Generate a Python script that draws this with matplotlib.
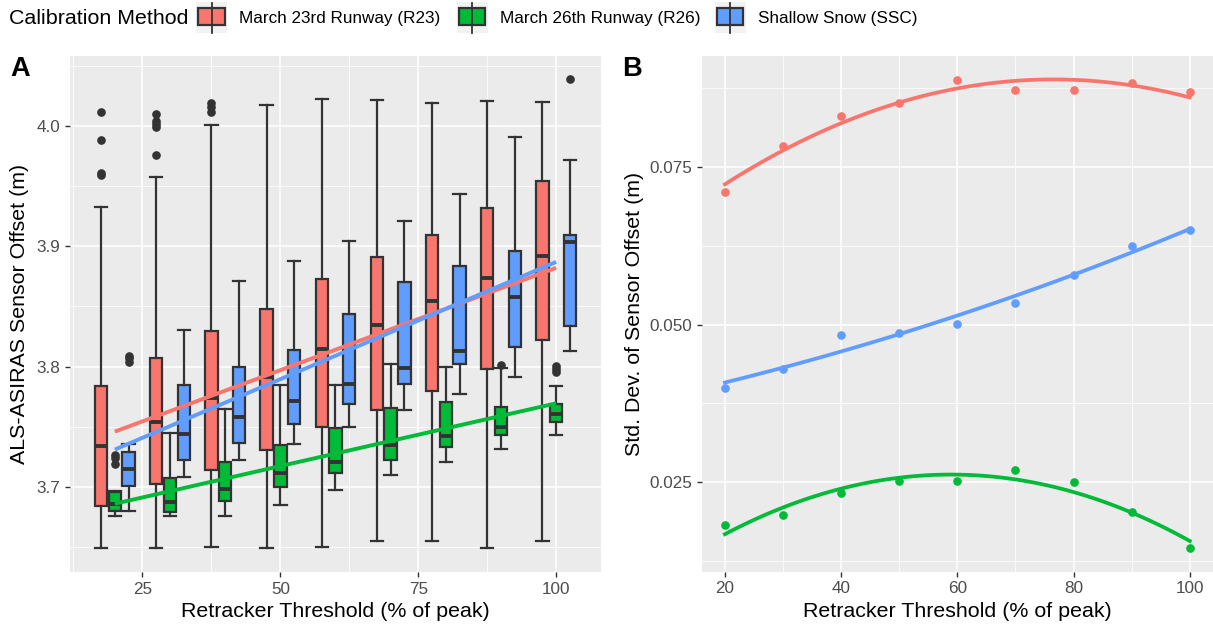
import numpy as np
import matplotlib
matplotlib.use("Agg")
import matplotlib.pyplot as plt
from matplotlib.patches import Rectangle
from matplotlib.lines import Line2D
from matplotlib.ticker import FixedLocator, FuncFormatter

plt.rcParams['font.family'] = ['Liberation Sans', 'DejaVu Sans']

# ---- data -------------------------------------------------------------
thresholds = [20, 30, 40, 50, 60, 70, 80, 90, 100]
methods = ["March 23rd Runway (R23)", "March 26th Runway (R26)", "Shallow Snow (SSC)"]
colors = ["#F8766D", "#00BA38", "#619CFF"]

# sensor offset distributions (m): whisker ends, quartiles, median, outliers
r23_lo  = [3.6495, 3.6493, 3.6501, 3.6495, 3.6504, 3.6552, 3.6554, 3.6490, 3.6554]
r23_q1  = [3.6841, 3.7023, 3.7141, 3.7310, 3.7498, 3.7641, 3.7798, 3.7981, 3.8222]
r23_med = [3.7338, 3.7543, 3.7736, 3.7913, 3.8149, 3.8349, 3.8545, 3.8734, 3.8922]
r23_q3  = [3.7838, 3.8071, 3.8292, 3.8481, 3.8725, 3.8911, 3.9093, 3.9318, 3.9539]
r23_hi  = [3.9323, 3.9576, 4.0006, 4.0174, 4.0222, 4.0211, 4.0191, 4.0205, 4.0196]
r23_out = {20: [4.0112, 3.9885, 3.9604, 3.9590],
           30: [4.0095, 4.0042, 4.0015, 3.9992, 3.9758],
           40: [4.0188, 4.0160, 4.0118]}

r26_lo  = [3.6754, 3.6754, 3.6754, 3.6847, 3.6973, 3.7097, 3.7209, 3.7318, 3.7428]
r26_q1  = [3.6800, 3.6790, 3.6883, 3.6995, 3.7113, 3.7220, 3.7332, 3.7433, 3.7540]
r26_med = [3.6855, 3.6874, 3.6984, 3.7113, 3.7206, 3.7344, 3.7422, 3.7500, 3.7607]
r26_q3  = [3.6955, 3.7070, 3.7206, 3.7352, 3.7492, 3.7652, 3.7703, 3.7664, 3.7686]
r26_hi  = [3.6965, 3.7450, 3.7647, 3.7843, 3.7843, 3.8020, 3.7998, 3.7984, 3.7838]
r26_out = {20: [3.7268, 3.7240, 3.7192],
           90: [3.8012],
           100: [3.8003, 3.7978, 3.7955]}

ssc_lo  = [3.6796, 3.7080, 3.7220, 3.7357, 3.7500, 3.7635, 3.7773, 3.7911, 3.8132]
ssc_q1  = [3.7009, 3.7226, 3.7366, 3.7526, 3.7689, 3.7854, 3.8023, 3.8163, 3.8335]
ssc_med = [3.7150, 3.7436, 3.7582, 3.7714, 3.7852, 3.7989, 3.8130, 3.8579, 3.9031]
ssc_q3  = [3.7287, 3.7843, 3.7992, 3.8138, 3.8433, 3.8700, 3.8832, 3.8961, 3.9093]
ssc_hi  = [3.7357, 3.8304, 3.8714, 3.8880, 3.9045, 3.9211, 3.9436, 3.9907, 3.9716]
ssc_out = {20: [3.8088, 3.8068, 3.8040],
           100: [4.0385]}

# linear trend of offset vs threshold (intercept, slope)
trend_intercept = [3.71187, 3.66515, 3.69203]
trend_slope = [0.0017013, 0.0010425, 0.0019488]

# standard deviation of sensor offset (m)
sd_r23 = [0.0710, 0.0783, 0.0831, 0.0851, 0.0887, 0.0871, 0.0872, 0.0882, 0.0868]
sd_r26 = [0.0183, 0.0198, 0.0233, 0.0252, 0.0252, 0.0270, 0.0250, 0.0203, 0.0146]
sd_ssc = [0.0400, 0.0429, 0.0483, 0.0487, 0.0501, 0.0534, 0.0579, 0.0624, 0.0650]

box_sets = [
    (r23_lo, r23_q1, r23_med, r23_q3, r23_hi, r23_out),
    (r26_lo, r26_q1, r26_med, r26_q3, r26_hi, r26_out),
    (ssc_lo, ssc_q1, ssc_med, ssc_q3, ssc_hi, ssc_out),
]
sd_sets = [sd_r23, sd_r26, sd_ssc]


def style_axes(ax):
    ax.set_facecolor("#EBEBEB")
    for s in ax.spines.values():
        s.set_visible(False)
    ax.grid(which="major", color="white", linewidth=1.1)
    ax.grid(which="minor", color="white", linewidth=0.55)
    ax.set_axisbelow(True)
    ax.tick_params(which="major", length=3.6, width=1.0, color="#333333",
                   labelcolor="#4D4D4D", labelsize=12.3, pad=3.5)
    ax.tick_params(which="minor", length=0)


W, H = 1213, 627
fig = plt.figure(figsize=(W / 100, H / 100), dpi=100)
axA = fig.add_axes([70 / W, 1 - 571.7 / H, 531 / W, 515.7 / H])
axB = fig.add_axes([701.7 / W, 1 - 571.5 / H, (1213 - 701.7) / W, 515.5 / H])

# ---- panel A: boxplots ------------------------------------------------
dodge = 2.5
box_w = 2.25
edge = "#333333"
all_vals = []
for k, (lo, q1, med, q3, hi, out) in enumerate(box_sets):
    stats = []
    for i, t in enumerate(thresholds):
        fl = out.get(t, [])
        stats.append(dict(whislo=lo[i], q1=q1[i], med=med[i], q3=q3[i],
                          whishi=hi[i], fliers=fl))
        all_vals += [lo[i], hi[i]] + list(fl)
    pos = [t + (k - 1) * dodge for t in thresholds]
    axA.bxp(stats, positions=pos, widths=box_w, capwidths=box_w,
            patch_artist=True, manage_ticks=False,
            boxprops=dict(facecolor=colors[k], edgecolor=edge, linewidth=1.6),
            medianprops=dict(color=edge, linewidth=2.8, solid_capstyle="butt"),
            whiskerprops=dict(color=edge, linewidth=1.6),
            capprops=dict(color=edge, linewidth=1.6),
            flierprops=dict(marker="o", markerfacecolor=edge, markeredgecolor=edge,
                            markersize=5.2))

xt = np.array([thresholds[0], thresholds[-1]], float)
for k in range(3):
    axA.plot(xt, trend_intercept[k] + trend_slope[k] * xt, color=colors[k],
             linewidth=2.8, zorder=5, solid_capstyle="butt")

x0 = thresholds[0] - 1.5 * dodge
x1 = thresholds[-1] + 1.5 * dodge
pad = 0.05 * (x1 - x0)
axA.set_xlim(x0 - pad, x1 + pad)
ymin, ymax = min(all_vals), max(all_vals)
pad = 0.05 * (ymax - ymin)
axA.set_ylim(ymin - pad, ymax + pad)

style_axes(axA)
axA.xaxis.set_major_locator(FixedLocator([25, 50, 75, 100]))
axA.xaxis.set_minor_locator(FixedLocator([12.5, 37.5, 62.5, 87.5]))
axA.yaxis.set_major_locator(FixedLocator([3.7, 3.8, 3.9, 4.0]))
axA.yaxis.set_minor_locator(FixedLocator([3.65, 3.75, 3.85, 3.95, 4.05]))
axA.yaxis.set_major_formatter(FuncFormatter(lambda v, p: f"{v:.1f}"))
axA.set_xlabel("Retracker Threshold (% of peak)", fontsize=15.4, labelpad=4)
axA.set_ylabel("ALS-ASIRAS Sensor Offset (m)", fontsize=15.4, labelpad=5)

# ---- panel B: standard deviation with quadratic smooth ------------------
grid = np.linspace(thresholds[0], thresholds[-1], 100)
b_vals = []
for k, sd in enumerate(sd_sets):
    coef = np.polyfit(thresholds, sd, 2)
    fit = np.polyval(coef, grid)
    axB.plot(grid, fit, color=colors[k], linewidth=2.7, zorder=4)
    axB.plot(thresholds, sd, "o", color=colors[k], markersize=5.2, zorder=5)
    b_vals += list(sd) + list(fit)

pad = 0.05 * (thresholds[-1] - thresholds[0])
axB.set_xlim(thresholds[0] - pad, thresholds[-1] + pad)
ymin, ymax = min(b_vals), max(b_vals)
pad = 0.05 * (ymax - ymin)
axB.set_ylim(ymin - pad, ymax + pad)

style_axes(axB)
axB.xaxis.set_major_locator(FixedLocator([20, 40, 60, 80, 100]))
axB.xaxis.set_minor_locator(FixedLocator([30, 50, 70, 90]))
axB.yaxis.set_major_locator(FixedLocator([0.025, 0.050, 0.075]))
axB.yaxis.set_minor_locator(FixedLocator([0.0125, 0.0375, 0.0625, 0.0875]))
axB.yaxis.set_major_formatter(FuncFormatter(lambda v, p: f"{v:.3f}"))
axB.set_xlabel("Retracker Threshold (% of peak)", fontsize=15.4, labelpad=4)
axB.set_ylabel("Std. Dev. of Sensor Offset (m)", fontsize=15.4, labelpad=4)

# ---- panel letters ----------------------------------------------------
ov = fig.add_axes([0, 0, 1, 1], zorder=10)
ov.set_xlim(0, W)
ov.set_ylim(H, 0)
ov.axis("off")
ov.text(10, 76, "A", fontsize=19.6, fontweight="bold", va="baseline", ha="left")
ov.text(622, 76, "B", fontsize=19.6, fontweight="bold", va="baseline", ha="left")

# ---- legend along the top ---------------------------------------------
ov.text(9, 18, "Calibration Method", fontsize=15.4, va="center", ha="left")
key_x = [196, 456.5, 714.5]
for k in range(3):
    kx = key_x[k]
    ov.add_patch(Rectangle((kx, 2), 31, 31, facecolor="#F2F2F2", edgecolor="none"))
    ov.add_line(Line2D([kx + 15.5, kx + 15.5], [2.5, 32.5], color=edge, linewidth=1.3))
    ov.add_patch(Rectangle((kx + 2.3, 8.3), 26.4, 16.7, facecolor=colors[k],
                           edgecolor=edge, linewidth=1.6))
    ov.text(kx + 43, 18, methods[k], fontsize=12.3, va="center", ha="left")

fig.savefig("out.png", dpi=100)
